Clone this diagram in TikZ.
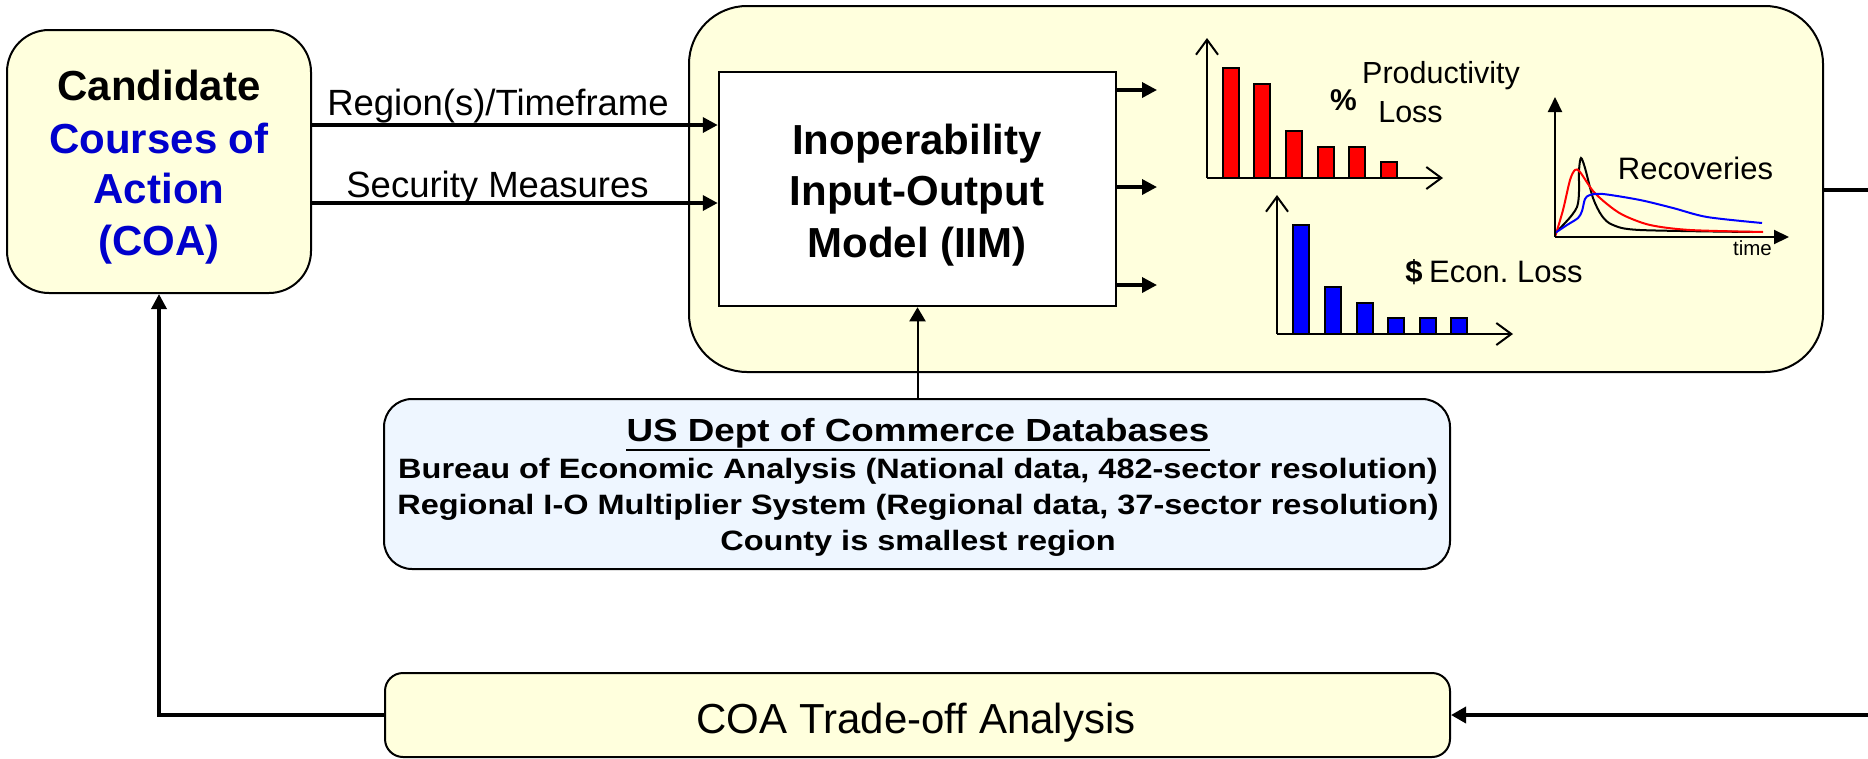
\documentclass[tikz,border=0pt]{standalone}
\usepackage{fontspec}
\setmainfont{Liberation Sans}
\usepackage{graphicx}
\usetikzlibrary{arrows.meta}
\definecolor{cream}{RGB}{255,255,221}
\definecolor{paleblue}{RGB}{238,246,255}
\definecolor{coablue}{RGB}{0,0,204}
\definecolor{barred}{RGB}{255,0,0}
\definecolor{barblue}{RGB}{0,0,255}
\newcommand\fs[1]{\fontsize{#1}{#1}\selectfont}
\begin{document}
\begin{tikzpicture}[x=1pt,y=-1pt,
  panel/.style={draw=black, line width=2pt, fill=cream, inner sep=0pt},
  txt/.style={inner sep=0pt, anchor=base},
  flow/.style={line width=3.5pt, -{Triangle[length=15pt,width=15pt]}},
  feed/.style={line width=3.5pt},
  thinflow/.style={line width=2pt, -{Triangle[length=14pt,width=16pt]}},
  axisbarb/.style={line width=2pt, -{Straight Barb[length=15pt,width=22pt]}},
  axisfill/.style={line width=2pt, -{Triangle[length=15pt,width=14pt]}},
  bar/.style={draw=black, line width=1.5pt},
  curve/.style={line width=2pt, smooth}]
\useasboundingbox (0,0) rectangle (1868,758);

% ---- boxes ----
\node[panel, rounded corners=58pt, minimum width=1134pt, minimum height=366pt] (model) at (1256,189) {};
\node[panel, rounded corners=42pt, minimum width=304pt, minimum height=263pt] (coa) at (159,161.5) {};
\node[draw=black, line width=2.5pt, fill=white, minimum width=397pt, minimum height=234pt, inner sep=0pt] (iim) at (917.5,189) {};
\node[draw=black, line width=2pt, fill=paleblue, rounded corners=28pt, minimum width=1066pt, minimum height=170pt, inner sep=0pt] (db) at (917,484) {};
\node[panel, rounded corners=18pt, minimum width=1065pt, minimum height=84pt] (trade) at (917.5,715) {};

% ---- COA text ----
\node[txt] (coa1) at (159,100) {\fs{42}\bfseries Candidate};
\node[txt, text=coablue] (coa2) at (159,153) {\fs{42}\bfseries Courses of};
\node[txt, text=coablue] (coa3) at (159,203) {\fs{42}\bfseries Action};
\node[txt, text=coablue] (coa4) at (159,255) {\fs{42}\bfseries (COA)};

% ---- IIM text ----
\node[txt] (iim1) at (917,154) {\fs{42}\bfseries Inoperability};
\node[txt] (iim2) at (917,205) {\fs{42}\bfseries Input-Output};
\node[txt] (iim3) at (917,257) {\fs{42}\bfseries Model (IIM)};

% ---- inputs ----
\coordinate (yreg) at (0,125);
\coordinate (ysec) at (0,203);
\draw[flow] (coa.east |- yreg) -- (iim.west |- yreg);
\draw[flow] (coa.east |- ysec) -- (iim.west |- ysec);
\node[txt] (lreg) at (498,115) {\fs{36.5}Region(s)/Timeframe};
\node[txt] (lsec) at (497.5,197) {\fs{36.5}Security Measures};

% ---- outputs ----
\coordinate (o1) at (1157,90);
\coordinate (o2) at (1157,187);
\coordinate (o3) at (1157,285);
\draw[flow] (iim.east |- o1) -- (o1);
\draw[flow] (iim.east |- o2) -- (o2);
\draw[flow] (iim.east |- o3) -- (o3);

% ---- productivity loss chart ----
\coordinate (pa) at (1207,178);
\coordinate (pt) at (1207,38);
\coordinate (pr) at (1443,178);
\foreach \x/\t in {1223/68,1254/84,1286/131,1318/147,1349/147,1381/162}
  \draw[bar, fill=barred] (\x,\t) rectangle ({\x+16},178);
\draw[axisbarb] (pa) -- (pt);
\draw[axisbarb] (pa) -- (pr);
\node[txt] (pct) at (1343.5,110) {\fs{30}\bfseries \%};
\node[txt] (prod1) at (1441,83) {\fs{30.5}Productivity};
\node[txt] (prod2) at (1410.5,122) {\fs{30.5}Loss};

% ---- economic loss chart ----
\coordinate (ea) at (1277,334);
\coordinate (et) at (1277,195);
\coordinate (er) at (1513,334);
\foreach \x/\t in {1293/225,1325/287,1357/303,1388/318,1420/318,1451/318}
  \draw[bar, fill=barblue] (\x,\t) rectangle ({\x+16},334);
\draw[axisbarb] (ea) -- (et);
\draw[axisbarb] (ea) -- (er);
\node[txt] (dol) at (1414,282) {\fs{31}\bfseries \$};
\node[txt, anchor=base west] (econ) at (1429,282) {\fs{31}Econ.\ Loss};

% ---- recovery curves ----
\coordinate (ra) at (1555,237);
\coordinate (rt) at (1555,97);
\coordinate (rr) at (1789,237);
\draw[curve, black] plot coordinates {(1555,233) (1577,207) (1579,170) (1581,158) (1585,168) (1593,198) (1602,216) (1613,225) (1640,230) (1753,232)};
\draw[curve, barred] plot coordinates {(1555,237) (1563,210) (1570,180) (1575,170) (1580,172) (1593,191) (1607,204) (1623,215) (1650,225) (1690,230) (1763,232)};
\draw[curve, barblue] plot coordinates {(1555,233) (1567,225) (1578,218) (1582,211) (1585,199) (1590,195) (1603,194) (1640,200) (1673,208) (1707,217) (1762,223)};
\draw[axisfill] (ra) -- (rt);
\draw[axisfill] (ra) -- (rr);
\node[txt] (rec) at (1695.5,179) {\fs{31}Recoveries};
\node[txt] (tim) at (1752.5,255) {\fs{20.5}time};

% ---- database box ----
\node[txt] (dbt) at (918,441) {\scalebox{1.15}[1]{\fs{32}\bfseries US Dept of Commerce Databases}};
\draw[line width=2.7pt] ([yshift=-9pt]dbt.base west) -- ([yshift=-9pt]dbt.base east);
\node[txt] (db1) at (918,478) {\scalebox{1.16}[1]{\fs{28}\bfseries Bureau of Economic Analysis (National data, 482-sector resolution)}};
\node[txt] (db2) at (918,514) {\scalebox{1.16}[1]{\fs{28}\bfseries Regional I-O Multiplier System (Regional data, 37-sector resolution)}};
\node[txt] (db3) at (918,550) {\scalebox{1.16}[1]{\fs{28}\bfseries County is smallest region}};
\draw[thinflow] (db.north -| iim.south) -- (iim.south);

% ---- trade-off analysis and feedback ----
\node[txt] (tradet) at (916,733) {\fs{42}COA Trade-off Analysis};
\coordinate (yfb) at (0,190);
\coordinate (xout) at (1900,0);
\draw[feed, -{Triangle[length=15pt,width=16pt]}] (model.east |- yfb) -- (xout |- yfb) |- (trade.east);
\draw[flow] (trade.west) -| (coa.south);
\end{tikzpicture}
\end{document}
